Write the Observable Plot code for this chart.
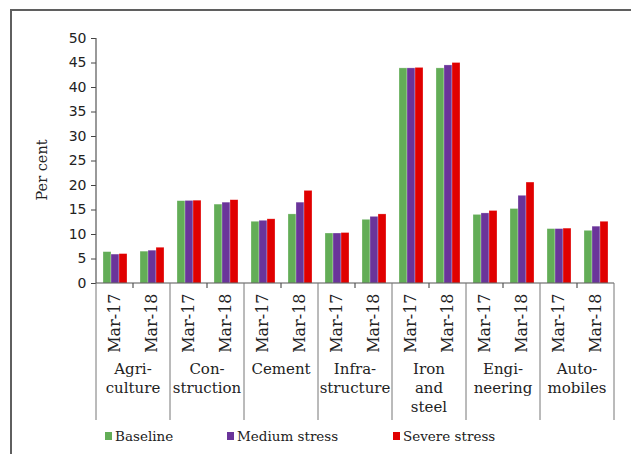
<!DOCTYPE html>
<html><head><meta charset="utf-8">
<script src="https://cdn.jsdelivr.net/npm/d3@7"></script>
<script src="https://cdn.jsdelivr.net/npm/@observablehq/plot@0.6"></script>
<style>
html,body{margin:0;padding:0;width:631px;height:454px;overflow:hidden;background:#fff;}
#wrap{position:relative;width:631px;height:454px;overflow:hidden;}
#frame{position:absolute;left:10px;top:9px;width:700px;height:600px;border-left:2px solid #5f5f5f;border-top:2px solid #5f5f5f;}
#chart{position:absolute;left:0;top:0;}
#legend{position:absolute;left:0;top:425px;width:631px;height:22px;font-family:"DejaVu Serif";font-size:13.5px;color:#222;}
.item{position:absolute;top:0;height:22px;display:flex;align-items:center;white-space:nowrap;}
.sw{width:7px;height:8px;margin-right:3px;display:inline-block;}
</style>
</head><body>
<div id="wrap"><div id="frame"></div><div id="chart"></div><div id="legend"></div></div>
<script>
const sectors = ["Agri-\nculture","Con-\nstruction","Cement","Infra-\nstructure","Iron\nand\nsteel","Engi-\nneering","Auto-\nmobiles"];
const periods = ["Mar-17","Mar-18"];
const seriesNames = ["Baseline","Medium stress","Severe stress"];
const seriesColors = ["#63ad57","#6a349a","#e00000"];
const yTicks = [0,5,10,15,20,25,30,35,40,45,50];
// values in order: sector by sector, Mar-17 then Mar-18
const baseline = [6.4,6.5, 16.8,16.1, 12.6,14.1, 10.2,13.0, 43.9,43.9, 14.0,15.2, 11.1,10.75];
const medium   = [5.9,6.7, 16.85,16.5, 12.8,16.5, 10.2,13.6, 43.9,44.5, 14.3,17.9, 11.1,11.6];
const severe   = [6.0,7.3, 16.9,17.0, 13.1,18.9, 10.3,14.1, 44.0,45.0, 14.8,20.6, 11.2,12.6];

const keys = sectors.flatMap((s,i)=>periods.map(p=>`${i}|${p}`));
const seriesValues = [baseline, medium, severe];
const data = [];
keys.forEach((k,j)=>seriesNames.forEach((s,si)=>data.push({key:k, series:s, value:seriesValues[si][j]})));

const plot = Plot.plot({
  width: 631, height: 422,
  marginTop: 38, marginBottom: 139, marginLeft: 93, marginRight: 14,
  style: {background: "transparent", color: "#222"},
  fx: {domain: keys, paddingInner: 0, paddingOuter: 0, axis: null, label: null},
  x: {domain: seriesNames, paddingInner: 0, paddingOuter: 0.79, axis: null},
  y: {domain: [0,50], axis: null},
  color: {domain: seriesNames, range: seriesColors},
  marks: [
    Plot.barY(data, {fx:"key", x:"series", y:"value", fill:"series", stroke:"#ffffff", strokeOpacity:0.45, strokeWidth:0.6}),
    Plot.axisY({ticks: yTicks, tickSize: 5, tickPadding: 5, label: null, fontSize: 14, fontFamily: "DejaVu Sans", stroke: "#444"}),
    Plot.axisFx({anchor:"bottom", tickRotate: -90, tickSize: 0, tickPadding: 10, label: null,
      tickFormat: k => k.split("|")[1], fontSize: 16, fontFamily: "DejaVu Serif"})
  ]
});
document.getElementById("chart").appendChild(plot);

const svg = d3.select(plot);
const fx = plot.scale("fx"), y = plot.scale("y");
const bw = fx.bandwidth;
const y0 = y.apply(0), yTop = y.apply(50);
const left = fx.apply(keys[0]), right = fx.apply(keys[keys.length-1]) + bw;
const g = svg.append("g").attr("stroke","#555").attr("stroke-width",1.2).attr("fill","none");
g.append("line").attr("x1",left).attr("x2",left).attr("y1",yTop).attr("y2",y0);
g.append("line").attr("x1",left).attr("x2",right).attr("y1",y0).attr("y2",y0);
const sepBottom = 420;
sectors.forEach((s,i)=>{
  const xs = fx.apply(`${i}|${periods[0]}`);
  g.append("line").attr("x1",xs).attr("x2",xs).attr("y1",y0).attr("y2",sepBottom).attr("stroke","#777").attr("stroke-width",1);
  const xm = fx.apply(`${i}|${periods[1]}`);
  g.append("line").attr("x1",xm).attr("x2",xm).attr("y1",y0).attr("y2",y0+5);
});
g.append("line").attr("x1",right).attr("x2",right).attr("y1",y0).attr("y2",sepBottom).attr("stroke","#777").attr("stroke-width",1);

const tg = svg.append("g").attr("font-family","DejaVu Serif").attr("font-size",15).attr("fill","#222").attr("text-anchor","middle");
sectors.forEach((s,i)=>{
  const xm = fx.apply(`${i}|${periods[1]}`);
  const t = tg.append("text").attr("x", xm).attr("y", 374);
  s.split("\n").forEach((line,li)=>t.append("tspan").attr("x",xm).attr("dy", li===0?0:19).text(line));
});
svg.append("text").attr("transform","translate(47,170) rotate(-90)").attr("text-anchor","middle")
  .attr("font-family","DejaVu Serif").attr("font-size",14.5).attr("fill","#222").text("Per cent");

const legendLefts = [105, 227, 393];
const legend = document.getElementById("legend");
seriesNames.forEach((s,i)=>{
  const it = document.createElement("div");
  it.className = "item"; it.style.left = legendLefts[i] + "px";
  it.innerHTML = `<span class="sw" style="background:${seriesColors[i]}"></span><span>${s}</span>`;
  legend.appendChild(it);
});
</script>
</body></html>
